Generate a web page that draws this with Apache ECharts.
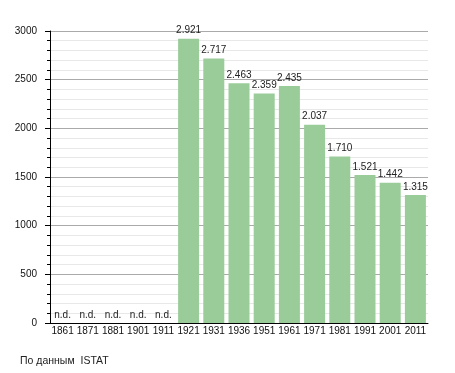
<!DOCTYPE html>
<html><head><meta charset="utf-8">
<script src="https://cdn.jsdelivr.net/npm/echarts@6/dist/echarts.min.js"></script>
<style>html,body{margin:0;padding:0;background:#fff}#c{width:455px;height:373px}</style>
</head><body><div id="c"></div>
<script>
const years = ['1861','1871','1881','1901','1911','1921','1931','1936','1951','1961','1971','1981','1991','2001','2011'];
const population = [null,null,null,null,null,2921,2717,2463,2359,2435,2037,1710,1521,1442,1315];
const yTicks = [0,500,1000,1500,2000,2500,3000];
const sourceText = 'По данным  ISTAT';

const fmt = v => { const s = String(v); return s.length > 3 ? s.slice(0, s.length-3) + '.' + s.slice(-3) : s; };
const chart = echarts.init(document.getElementById('c'));
chart.setOption({
  animation: false,
  textStyle: {fontFamily: 'Liberation Sans, Arial, sans-serif'},
  title: {text: sourceText, left: 15, top: 351, textStyle: {fontSize: 10.5, fontWeight: 'normal', color: '#222'}},
  grid: {left: 50, right: 27, top: 31, bottom: 50},
  xAxis: {
    type: 'category', data: years,
    axisLine: {lineStyle: {color: '#000', width: 1}},
    axisTick: {show: false},
    axisLabel: {color: '#111', fontSize: 10, margin: 3, interval: 0}
  },
  yAxis: {
    type: 'value', min: yTicks[0], max: yTicks[yTicks.length-1], interval: 500,
    axisLine: {show: true, lineStyle: {color: '#000'}},
    axisTick: {show: true, length: 5, lineStyle: {color: '#000'}},
    minorTick: {show: true, splitNumber: 5, length: 3, lineStyle: {color: '#000'}},
    splitLine: {lineStyle: {color: '#aaa'}},
    minorSplitLine: {show: true, lineStyle: {color: '#e8e8e8'}},
    axisLabel: {color: '#111', fontSize: 10, margin: 13, formatter: v => String(v)}
  },
  series: [{
    type: 'bar', barWidth: 21,
    data: population.map(v => v === null ? {value: 0, nd: true} : v),
    itemStyle: {color: '#99cc99'},
    label: {
      show: true, position: 'top', distance: 3, fontSize: 10, color: '#222',
      formatter: p => p.data && p.data.nd ? 'n.d.' : fmt(p.value)
    }
  }]
});
</script></body></html>
